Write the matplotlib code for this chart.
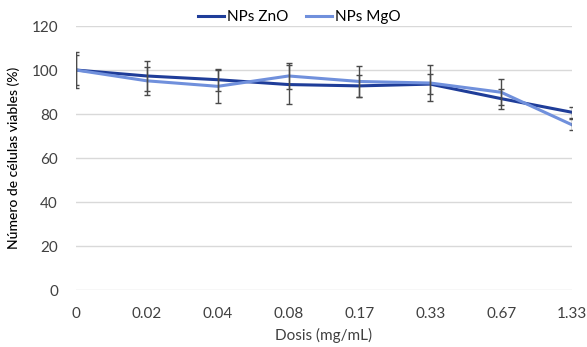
import numpy as np
import matplotlib.pyplot as plt

# dosis (mg/mL) categories
doses = ['0', '0.02', '0.04', '0.08', '0.17', '0.33', '0.67', '1.33']

# viable cells (%) and std for each nanoparticle
zno = [100, 97.3, 95.6, 93.4, 92.8, 93.6, 87.0, 80.8]
zno_err = [8.0, 6.8, 5.0, 9.0, 5.0, 4.5, 4.5, 2.5]
mgo = [100, 95.1, 92.6, 97.3, 94.8, 94.1, 89.9, 75.1]
mgo_err = [7.0, 6.4, 7.5, 6.0, 7.0, 8.0, 6.0, 2.5]

plt.rcParams['font.family'] = ['Lato', 'DejaVu Sans']

fig = plt.figure(figsize=(5.87, 3.47), dpi=100)
ax = fig.add_axes([0.1295, 0.164, 0.845, 0.761])

x = np.arange(len(doses))
ax.plot(x, zno, color='#1f3d99', lw=2.2, label='NPs ZnO', zorder=3)
ax.plot(x, mgo, color='#7090dc', lw=2.2, label='NPs MgO', zorder=3)
ax.errorbar(x, zno, yerr=zno_err, fmt='none', ecolor='#4a4a4a', elinewidth=1,
            capsize=2.5, capthick=1, zorder=4)
ax.errorbar(x, mgo, yerr=mgo_err, fmt='none', ecolor='#4a4a4a', elinewidth=1,
            capsize=2.5, capthick=1, zorder=4)

ax.set_xlim(0, len(doses) - 1)
ax.set_ylim(0, 120)
ax.set_yticks(range(0, 121, 20))
ax.set_xticks(x)
ax.set_xticklabels(doses)
ax.grid(axis='y', color='#d9d9d9', lw=1)
ax.set_axisbelow(True)
for s in ax.spines.values():
    s.set_visible(False)
ax.tick_params(length=0, labelsize=11, colors='#404040')
ax.tick_params(axis='y', pad=13)
ax.tick_params(axis='x', pad=12)

ax.set_xlabel('Dosis (mg/mL)', fontsize=11, color='#404040', labelpad=5)
ax.set_ylabel('Número de células viables (%)', fontsize=10, color='#000000',
              labelpad=8, fontweight='medium')

ax.legend(loc='lower center', bbox_to_anchor=(0.45, 0.985), ncol=2, frameon=False,
          fontsize=11, handlelength=1.7, handletextpad=0.2, columnspacing=1.2,
          borderaxespad=0)

fig.savefig('out.png', dpi=100)
